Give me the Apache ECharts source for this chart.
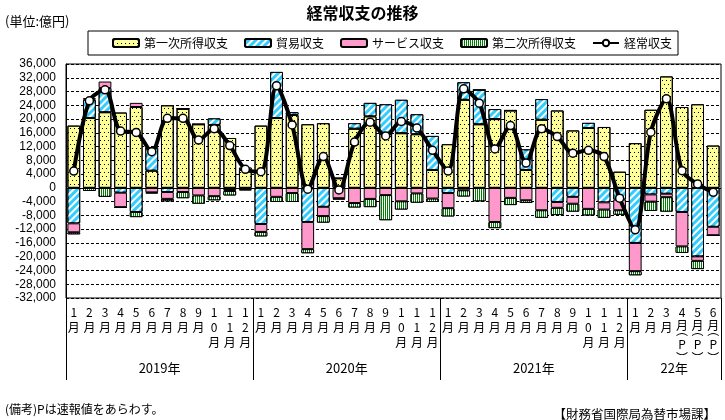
<!DOCTYPE html>
<html><head><meta charset="utf-8">
<script src="https://cdn.jsdelivr.net/npm/echarts@6/dist/echarts.min.js"></script>
<style>html,body{margin:0;padding:0;background:#fff}#c{width:725px;height:420px}</style>
</head><body><div id="c"></div>
<script>
// ---- data (単位: 億円) ----
const years = ['2019年', '2020年', '2021年', '22年'];
const monthsPerYear = [12, 12, 12, 6];
const months = [
  '1','2','3','4','5','6','7','8','9','10','11','12',
  '1','2','3','4','5','6','7','8','9','10','11','12',
  '1','2','3','4','5','6','7','8','9','10','11','12',
  '1','2','3','4','5','6'
];
const preliminary = [
  0,0,0,0,0,0,0,0,0,0,0,0,
  0,0,0,0,0,0,0,0,0,0,0,0,
  0,0,0,0,0,0,0,0,0,0,0,0,
  0,0,0,1,1,1
];
const primaryIncome = [
  18100, 20300, 22000, 21900, 23500, 5000, 24000, 23000, 18500, 18300, 14500, 5200,
  18100, 20300, 21200, 18500, 18800, 2800, 17200, 20800, 15900, 15900, 15600, 5200,
  12700, 25600, 18500, 20000, 22500, 5200, 19800, 22500, 16700, 17400, 17700, 4700,
  13000, 22700, 32400, 23500, 24300, 12300
];
const tradeBalance = [
  -10300, 5300, 7000, -1400, -7000, 6800, -1200, 0, 0, 1900, -600, 700,
  -10500, 13400, 800, -9900, -5500, 0, 1600, 3900, 8400, 9700, 5800, 9900,
  -1500, 5100, 10000, 2900, 0, 6000, 6000, -4100, -2600, 1500, -4200, -3400,
  -16000, -1900, -1700, -7000, -19900, -11300
];
const servicesBalance = [
  -2600, 500, 1900, -4200, 1200, -1300, -2000, -1200, -2200, -2400, -300, -400,
  -2300, -2600, -1500, -7900, -2700, -3000, -4400, -3200, -2100, -3900, -1600, -3100,
  -4400, -700, 0, -9900, -2900, -3600, -6500, -1700, -2000, -6100, -2100, -3100,
  -8200, -2100, -1000, -10000, -1300, -2500
];
const secondaryIncome = [
  -600, -900, -2600, -200, -1500, -300, -700, -1800, -2400, -1200, -1300, -300,
  -1300, -1500, -2600, -1200, -1900, -400, -1300, -2400, -7300, -2400, -2700, -1000,
  -2400, -1800, -3900, -1800, -2100, -800, -2200, -2100, -2300, -1900, -2400, -1300,
  -1200, -2700, -4200, -1900, -2400, 0
];
const currentAccount = [
  4900, 25300, 28500, 16500, 16100, 10500, 20200, 20200, 13900, 17200, 12300, 5400,
  4700, 29700, 18300, -400, 9100, -600, 13300, 19100, 15100, 19300, 17400, 10900,
  4900, 28800, 24600, 11300, 18100, 7200, 17200, 14900, 10100, 10900, 9100, -3000,
  -12200, 16200, 25900, 5000, 1100, -1300
];
const yMin = -32000, yMax = 36000, yStep = 4000;

// ---- derived ----
const categories = months.map((m, i) => 'c' + i);
const boundaries = [0];
const yearCenters = [];
monthsPerYear.forEach(n => {
  const start = boundaries[boundaries.length - 1];
  yearCenters.push(start + n / 2);
  boundaries.push(start + n);
});
const total = boundaries[boundaries.length - 1];

const JP = '"Noto Sans CJK JP", sans-serif';
const decalDots = { symbol: 'rect', symbolSize: 1, color: '#000', dashArrayX: [[1, 3], [0, 2, 1, 1]], dashArrayY: [1, 3], rotation: 0 };
const decalDiag = { symbol: 'rect', symbolSize: 1, color: '#fff', dashArrayX: [1, 0], dashArrayY: [2, 3], rotation: -Math.PI / 4 };
const decalVert = { symbol: 'rect', symbolSize: 1, color: '#fff', dashArrayX: [1, 1], dashArrayY: [1, 0], rotation: 0 };

const chart = echarts.init(document.getElementById('c'), null, { renderer: 'canvas' });
const barBase = { type: 'bar', stack: 'bop', barCategoryGap: '18%', animation: false };

chart.setOption({
  animation: false,
  backgroundColor: '#fff',
  title: [
    { text: '経常収支の推移', left: 'center', top: 0,
      textStyle: { fontSize: 16, fontWeight: 'bold', color: '#000', fontFamily: JP } },
    { text: '(単位:億円)', left: 0, top: 10,
      textStyle: { fontSize: 13, fontWeight: 'normal', color: '#000', fontFamily: JP } },
    { text: '(備考)Pは速報値をあらわす。', left: 0, top: 398,
      textStyle: { fontSize: 12, fontWeight: 'normal', color: '#000', fontFamily: JP } },
    { text: '【財務省国際局為替市場課】', right: 4, top: 403,
      textStyle: { fontSize: 12.5, fontWeight: 'normal', color: '#000', fontFamily: JP } }
  ],
  legend: {
    left: 88, top: 31,
    padding: [6, 6, 6, 24],
    borderColor: '#000', borderWidth: 1,
    itemGap: 16, itemWidth: 26, itemHeight: 8,
    textStyle: { fontSize: 12, color: '#000', fontFamily: JP },
    data: [
      { name: '第一次所得収支', itemStyle: { decal: decalDots } },
      { name: '貿易収支', itemStyle: { decal: decalDiag } },
      { name: 'サービス収支' },
      { name: '第二次所得収支', itemStyle: { decal: decalVert } },
      { name: '経常収支' }
    ]
  },
  grid: { left: 66, right: 4, top: 64, bottom: 122, show: true, borderColor: '#000', borderWidth: 1 },
  xAxis: [
    {
      type: 'category', data: categories, position: 'bottom', boundaryGap: true,
      axisLine: { show: false }, axisTick: { show: false }, splitLine: { show: false },
      axisLabel: {
        interval: 0, margin: 7, fontSize: 12, lineHeight: 15, color: '#000', fontFamily: JP,
        formatter: (v, i) => {
          const digits = months[i].split('').join('\n');
          if (preliminary[i]) return digits + '\n{m|月}\n{p|︵}\n{q|P}\n{p|︶}';
          return digits + '\n月';
        },
        rich: {
          m: { fontSize: 12, lineHeight: 10, color: '#000', fontFamily: JP },
          p: { fontSize: 12, lineHeight: 1, color: '#000', fontFamily: JP },
          q: { fontSize: 12, lineHeight: 27, color: '#000', fontFamily: JP }
        }
      }
    },
    {
      type: 'value', position: 'bottom', min: 0, max: total,
      axisLine: { show: false }, splitLine: { show: false },
      axisTick: { show: true, customValues: boundaries, length: 82, lineStyle: { color: '#000', width: 1 } },
      axisLabel: {
        customValues: yearCenters, margin: 64, fontSize: 13, color: '#000', fontFamily: JP,
        formatter: v => years[yearCenters.indexOf(v)] || ''
      }
    }
  ],
  yAxis: {
    type: 'value', min: yMin, max: yMax, interval: yStep,
    axisLine: { show: true, lineStyle: { color: '#000' } },
    axisTick: { show: false },
    axisLabel: { margin: 10, fontSize: 12, color: '#000', fontFamily: '"Liberation Sans", Arial, sans-serif',
      formatter: v => v.toLocaleString('en-US') },
    splitLine: { show: true, lineStyle: { color: '#000', type: [3, 2], width: 1 } }
  },
  series: [
    Object.assign({}, barBase, {
      name: '第一次所得収支', data: primaryIncome,
      itemStyle: { color: '#FFFF99', borderColor: '#000', borderWidth: 1, decal: decalDots },
      markLine: { silent: true, symbol: 'none', label: { show: false }, animation: false,
        lineStyle: { color: '#000', type: 'solid', width: 1 }, data: [{ yAxis: 0 }] }
    }),
    Object.assign({}, barBase, {
      name: '貿易収支', data: tradeBalance,
      itemStyle: { color: '#33CCFF', borderColor: '#000', borderWidth: 1, decal: decalDiag }
    }),
    Object.assign({}, barBase, {
      name: 'サービス収支', data: servicesBalance,
      itemStyle: { color: '#FF99CC', borderColor: '#000', borderWidth: 1 }
    }),
    Object.assign({}, barBase, {
      name: '第二次所得収支', data: secondaryIncome,
      itemStyle: { color: '#008000', borderColor: '#000', borderWidth: 1, decal: decalVert }
    }),
    {
      name: '経常収支', type: 'line', data: currentAccount, z: 10,
      smooth: 0.3, symbol: 'circle', symbolSize: 8, animation: false,
      lineStyle: { color: '#000', width: 4 },
      itemStyle: { color: '#fff', borderColor: '#000', borderWidth: 1.5 }
    }
  ]
});
</script>
</body></html>
